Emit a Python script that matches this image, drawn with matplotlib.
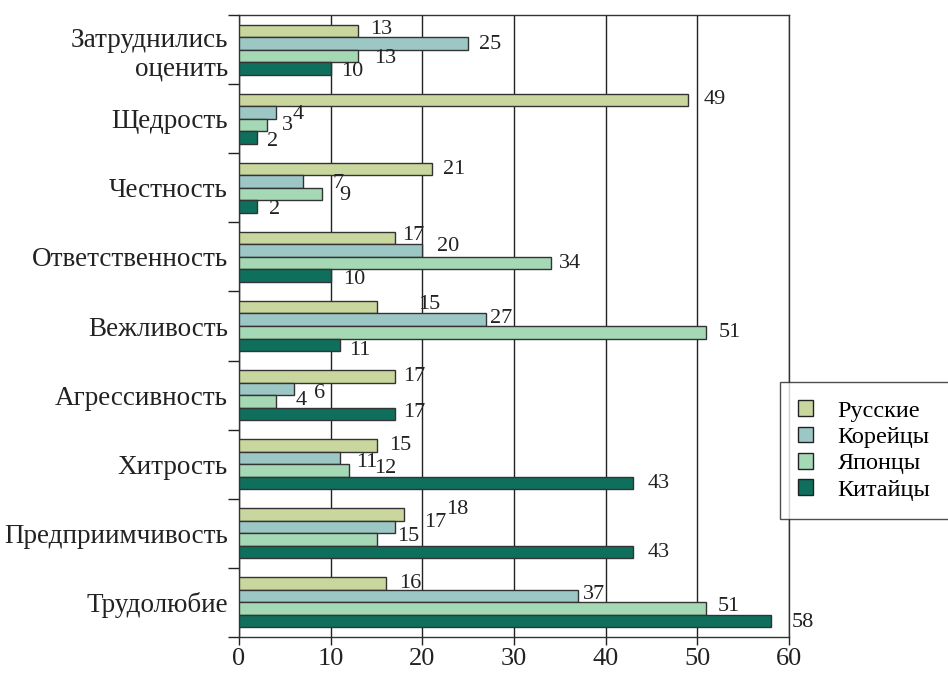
import numpy as np
import matplotlib
matplotlib.use('Agg')
import matplotlib.pyplot as plt
from matplotlib.patches import Patch

plt.rcParams['font.family'] = ['Liberation Serif', 'DejaVu Serif']

categories = ['Затруднились\nоценить', 'Щедрость', 'Честность', 'Ответственность',
              'Вежливость', 'Агрессивность', 'Хитрость', 'Предприимчивость',
              'Трудолюбие']
series_names = ['Русские', 'Корейцы', 'Японцы', 'Китайцы']
russians = [13, 49, 21, 17, 15, 17, 15, 18, 16]
koreans = [25, 4, 7, 20, 27, 6, 11, 17, 37]
japanese = [13, 3, 9, 34, 51, 4, 12, 15, 51]
chinese = [10, 2, 2, 10, 11, 17, 43, 43, 58]
x_ticks = [0, 10, 20, 30, 40, 50, 60]

colors = ['#c9d69d', '#9dc7c5', '#a5d8b5', '#0f6f5d']

# label offsets in pixels (dx right, dy down), per category and series
label_offsets = [
    [(12, -1), (11, 1), (16, 3), (10, 3)],
    [(15, 0), (17, 2), (15, 1), (10, 4)],
    [(12, 0), (29, 2), (18, 1), (12, 3)],
    [(7, -3), (15, -4), (8, 0), (12, 4)],
    [(42, -3), (4, -1), (12, 0), (9, 6)],
    [(8, 0), (20, 5), (20, -1), (8, -1)],
    [(13, 0), (16, 5), (25, -2), (14, 1)],
    [(42, -5), (29, -5), (21, -3), (14, 0)],
    [(13, 0), (5, -2), (11, -2), (21, 1)],
]

values = [russians, koreans, japanese, chinese]
n = len(categories)
ypos = np.arange(n)[::-1]
h = 0.181

fig = plt.figure(figsize=(9.48, 6.74), dpi=100)
ax = fig.add_axes([239 / 948, 37 / 674, 550 / 948, 622 / 674])

for s in range(4):
    off = (1.5 - s) * h
    bars = ax.barh(ypos + off, values[s], height=h, color=colors[s],
                   edgecolor='#333333', linewidth=1.0, zorder=3)
    for i, b in enumerate(bars):
        dx, dy = label_offsets[i][s]
        ax.annotate(str(values[s][i]), (b.get_width(), b.get_y() + h / 2),
                    xytext=(dx, -dy), textcoords='offset pixels',
                    ha='left', va='center', fontsize=16, color='#222222',
                    zorder=4)

ax.set_xlim(0, 60)
ax.set_ylim(-0.5, n - 0.5)
ax.set_xticks(x_ticks)
ax.set_xticklabels([str(t) for t in x_ticks], fontsize=19, color='#222222')
ax.tick_params(axis='x', length=6, width=1, pad=2, color='#222222')

ax.set_yticks(ypos)
ax.set_yticklabels(categories, fontsize=19.5, color='#222222')
ax.set_yticks(np.arange(n + 1) - 0.5, minor=True)
ax.tick_params(axis='y', which='major', length=0, pad=8)
ax.tick_params(axis='y', which='minor', length=8, width=1, color='#222222')

ax.grid(axis='x', color='#222222', linewidth=1.0)
ax.set_axisbelow(True)
for sp in ax.spines.values():
    sp.set_color('#333333')
    sp.set_linewidth(1.0)

handles = [Patch(facecolor=colors[s], edgecolor='#222222', linewidth=1.0)
           for s in range(4)]
leg = fig.legend(handles, series_names, loc='upper left',
                 bbox_to_anchor=(780 / 948, 1 - 382 / 674),
                 fontsize=17.5, frameon=True, fancybox=False,
                 handlelength=0.62, handleheight=0.62, handletextpad=1.0,
                 labelspacing=0.2, borderpad=0.75, borderaxespad=0)
leg.get_frame().set_edgecolor('#222222')
leg.get_frame().set_linewidth(1.0)

fig.savefig('out.png', dpi=100)
